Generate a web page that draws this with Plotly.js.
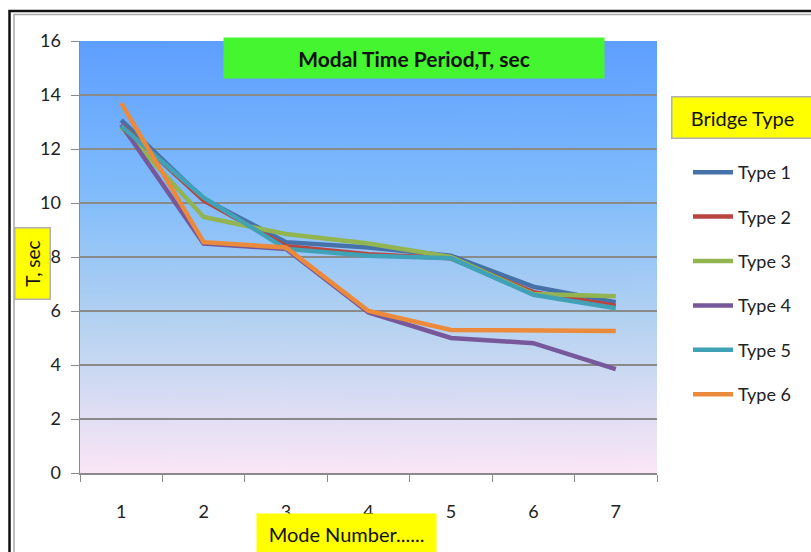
<!DOCTYPE html>
<html><head><meta charset="utf-8">
<script src="https://cdn.plot.ly/plotly-3.0.1.min.js"></script>
<style>html,body{margin:0;padding:0;background:#fff;}#chart{width:811px;height:552px;}</style>
</head><body><div id="chart"></div>
<script>
var modes = ['1','2','3','4','5','6','7'];
var seriesNames = ['Type 1','Type 2','Type 3','Type 4','Type 5','Type 6'];
var type1 = [13.07, 10.15, 8.55, 8.35, 8.05, 6.9, 6.33];
var type2 = [12.9, 10.1, 8.4, 8.1, 7.95, 6.7, 6.2];
var type3 = [12.8, 9.48, 8.85, 8.5, 8.0, 6.63, 6.55];
var type4 = [12.9, 8.5, 8.3, 5.95, 5.0, 4.81, 3.85];
var type5 = [12.85, 10.2, 8.3, 8.05, 7.95, 6.6, 6.1];
var type6 = [13.7, 8.55, 8.35, 6.0, 5.3, 5.3, 5.26];
var yTicks = [0, 2, 4, 6, 8, 10, 12, 14, 16];

var allSeries = [type1, type2, type3, type4, type5, type6];
var colors = ['#4672aa', '#b8453f', '#92b451', '#77589a', '#41a1b6', '#ec8a3c'];

var font = 'Lato, "Open Sans", sans-serif';

// gradient background image
var cv = document.createElement('canvas');
cv.width = 10; cv.height = 432;
var ctx = cv.getContext('2d');
var g = ctx.createLinearGradient(0, 0, 0, 432);
g.addColorStop(0, '#5e9eff');
g.addColorStop(0.35, '#80bcfb');
g.addColorStop(0.65, '#b4d2f1');
g.addColorStop(1, '#fbe6f6');
ctx.fillStyle = g; ctx.fillRect(0, 0, 10, 432);
var bgURL = cv.toDataURL();

var traces = allSeries.map(function(v, i) {
  return {
    x: modes, y: v, type: 'scatter', mode: 'lines', name: seriesNames[i],
    legendgroup: 'g' + i,
    line: {color: colors[i], width: 4.5}
  };
});

var L = 80, R = 657, T = 41, B = 473;
function px(x) { return (x - L) / (R - L); }
function py(y) { return (B - y) / (B - T); }

var layout = {
  width: 811, height: 552,
  margin: {l: L, r: 811 - R, t: T, b: 552 - B, pad: 0},
  paper_bgcolor: '#ffffff',
  plot_bgcolor: 'rgba(0,0,0,0)',
  font: {family: font, color: '#222', size: 18},
  showlegend: true,
  legend: {
    x: px(688), y: py(154), xanchor: 'left', yanchor: 'top',
    font: {family: font, size: 18, color: '#222'},
    bgcolor: 'rgba(0,0,0,0)', traceorder: 'grouped', tracegroupgap: 18,
    itemwidth: 40
  },
  xaxis: {
    type: 'category', tickvals: modes, ticktext: modes, range: [-0.5, 6.5],
    showgrid: false, showline: true, linecolor: '#8a8a8a', linewidth: 1.5,
    ticks: 'outside', tickson: 'boundaries', ticklen: 7, tickcolor: '#8a8a8a',
    ticklabelstandoff: 22, tickfont: {family: font, size: 18, color: '#222'},
    zeroline: false
  },
  yaxis: {
    range: [0, 16], tickvals: yTicks, ticktext: yTicks.map(String),
    showgrid: true, gridcolor: '#8a8a8a', gridwidth: 1.5,
    showline: true, linecolor: '#8a8a8a', linewidth: 1.5,
    ticks: 'outside', ticklen: 8, tickcolor: '#8a8a8a',
    ticklabelstandoff: 6,
    tickfont: {family: font, size: 18, color: '#222'},
    zeroline: false
  },
  images: [{
    source: bgURL, xref: 'paper', yref: 'paper', x: 0, y: 1, sizex: 1, sizey: 1,
    sizing: 'stretch', layer: 'below', xanchor: 'left', yanchor: 'top'
  }],
  shapes: [
    {type: 'rect', xref: 'paper', yref: 'paper', x0: px(9.5), x1: px(830), y0: py(11), y1: py(570),
     line: {color: '#111', width: 2.5}, fillcolor: 'rgba(0,0,0,0)'},
    {type: 'rect', xref: 'paper', yref: 'paper', x0: px(14), x1: px(830), y0: py(14.5), y1: py(570),
     line: {color: '#aaaaaa', width: 1.5}, fillcolor: 'rgba(0,0,0,0)'}
  ],
  annotations: [
    {text: 'Modal Time Period,T, sec', xref: 'paper', yref: 'paper', x: px(414), y: py(58),
     xanchor: 'center', yanchor: 'middle', showarrow: false, bgcolor: '#44f52f',
     width: 378, height: 38, font: {family: font, size: 21, color: '#111', weight: 'bold'}},
    {text: 'T, sec', xref: 'paper', yref: 'paper', x: px(32), y: py(264), textangle: -90,
     xanchor: 'center', yanchor: 'middle', showarrow: false, bgcolor: '#ffff00',
     bordercolor: '#b0b0b0', borderwidth: 1.5, width: 68, height: 32,
     font: {family: font, size: 19, color: '#111'}},
    {text: 'Mode Number......', xref: 'paper', yref: 'paper', x: px(346), y: py(534),
     xanchor: 'center', yanchor: 'middle', showarrow: false, bgcolor: '#ffff00',
     width: 177, height: 38, font: {family: font, size: 20, color: '#111'}},
    {text: 'Bridge Type', xref: 'paper', yref: 'paper', x: px(742), y: py(117),
     xanchor: 'center', yanchor: 'middle', showarrow: false, bgcolor: '#ffff00',
     bordercolor: '#b0b0b0', borderwidth: 1.5, width: 138, height: 38,
     font: {family: font, size: 20, color: '#111'}}
  ]
};

Plotly.newPlot('chart', traces, layout, {displayModeBar: false, staticPlot: true});
</script>
</body></html>
